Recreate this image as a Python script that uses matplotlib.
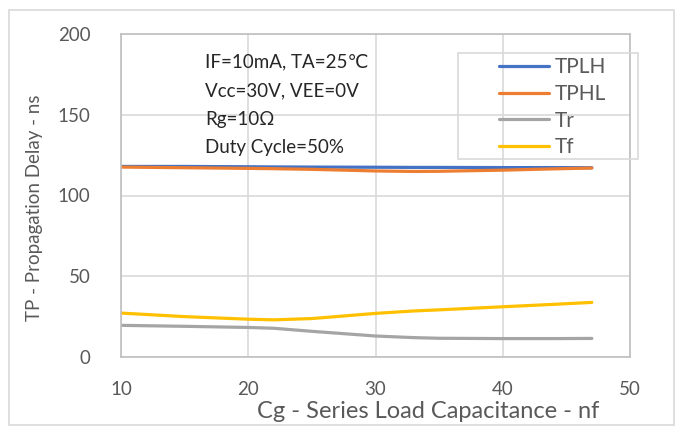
import numpy as np
import matplotlib.pyplot as plt
from matplotlib.patches import Rectangle

plt.rcParams['font.family'] = ['Lato', 'DejaVu Sans']

# values
cg = [10, 15, 20, 22, 25, 30, 33, 35, 40, 44, 47]
tplh = [118, 118, 117.8, 117.7, 117.6, 117.5, 117.4, 117.4, 117.3, 117.3, 117.2]
tphl = [117.6, 117.2, 116.8, 116.6, 116.2, 115.2, 114.9, 115.0, 115.7, 116.5, 117.0]
tr = [19.6, 19.0, 18.3, 17.8, 15.9, 13.0, 12.0, 11.6, 11.4, 11.4, 11.5]
tf = [27.2, 25.0, 23.4, 23.0, 23.8, 27.0, 28.5, 29.2, 31.1, 32.6, 33.8]

series = [("TPLH", tplh, "#4472C4"), ("TPHL", tphl, "#ED7D31"),
          ("Tr", tr, "#A5A5A5"), ("Tf", tf, "#FFC000")]

W, H = 681, 433
fig = plt.figure(figsize=(W / 100, H / 100), dpi=100)
ax = fig.add_axes([121 / W, 1 - 357 / H, 509 / W, 323 / H])

for name, vals, col in series:
    ax.plot(cg, vals, color=col, lw=2.3, label=name, solid_capstyle='round')

ax.set_xlim(10, 50)
ax.set_ylim(0, 200)
ax.set_xticks([10, 20, 30, 40, 50])
ax.set_yticks([0, 50, 100, 150, 200])
ax.grid(True, color="#D9D9D9", lw=1.2)
ax.set_axisbelow(True)
for s in ax.spines.values():
    s.set_color("#BFBFBF")
    s.set_linewidth(1.2)
ax.tick_params(length=0, labelsize=13.5, colors="#595959")
ax.tick_params(axis='x', pad=17)
ax.tick_params(axis='y', pad=22)

fig.text(35 / W, 1 - 208 / H, "TP - Propagation Delay - ns", rotation=90,
         ha='center', va='center', fontsize=13.5, color="#595959")
fig.text(428 / W, 1 - 412 / H, "Cg - Series Load Capacitance - nf", ha='center',
         va='center', fontsize=17, color="#595959")

notes = ["IF=10mA, TA=25\u2103", "Vcc=30V, VEE=0V", "Rg=10\u03a9", "Duty Cycle=50%"]
for i, t in enumerate(notes):
    fig.text(205 / W, 1 - (62 + i * 28.5) / H, t, fontsize=13.5, color="#262626",
             va='center', ha='left')

# legend box drawn separately so the handles sit where Excel put them
leg = fig.legend(loc='upper left', bbox_to_anchor=(493 / W, 1 - 51 / H),
                 fontsize=15, frameon=False, handlelength=2.4, handletextpad=0.25,
                 labelspacing=0.32, borderpad=0.3, borderaxespad=0)
for t in leg.get_texts():
    t.set_color("#595959")
fig.patches.append(Rectangle((458 / W, 1 - 159 / H), 180 / W, 106 / H,
                             transform=fig.transFigure, fill=False,
                             edgecolor="#D9D9D9", lw=1.2))

fig.patches.append(Rectangle((9 / W, 8 / H), 665 / W, 415 / H,
                             transform=fig.transFigure, fill=False,
                             edgecolor="#D9D9D9", lw=1.2))

fig.savefig("out.png", dpi=100)
